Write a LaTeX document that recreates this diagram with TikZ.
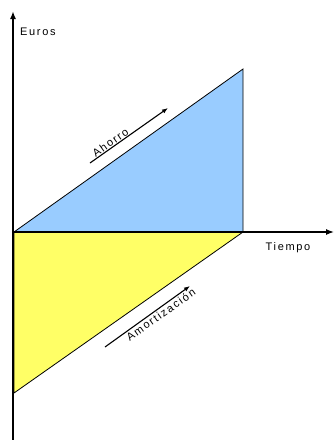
\documentclass[tikz,border=0pt]{standalone}
\usepackage{fontspec}
\setmainfont{Liberation Sans}[LetterSpace=15]
\usepackage{xcolor}
\usetikzlibrary{arrows.meta, calc}
\definecolor{ahorroblue}{RGB}{153,204,255}
\definecolor{amortyellow}{RGB}{255,255,102}

\begin{document}
\begin{tikzpicture}[x=1pt, y=-1pt,
        axis/.style={line width=1.8pt, -{Latex[length=8pt,width=6pt]}},
        xaxis/.style={line width=1.3pt, -{Latex[length=8pt,width=6pt]}},
        tri/.style={draw=black, line width=0.8pt, line join=miter},
        flow/.style={line width=1.1pt, -{Latex[length=6pt,width=4.5pt]}},
        every node/.style={font=\fontsize{11}{13}\selectfont, inner sep=1pt}]
  \useasboundingbox (0,0) rectangle (334,440);
  \coordinate (O) at (14,232);
  \coordinate (T) at (243,69);
  \coordinate (C) at (243,232);
  \coordinate (B) at (14,393);
  \filldraw[tri, fill=ahorroblue] (O) -- (T) -- (C) -- cycle;
  \filldraw[tri, fill=amortyellow] (O) -- (C) -- (B) -- cycle;
  % axes
  \coordinate (ybot) at (13,440);
  \coordinate (ytop) at (13,11);
  \coordinate (xend) at (334,232);
  \draw[axis] (ybot) -- (ytop);
  \draw[xaxis] (O) -- (xend);
  \node[anchor=west] (euros) at (19,32) {Euros};
  \node (tiempo) at (288,248) {Tiempo};
  % ahorro
  \coordinate (a1) at (90,163);
  \coordinate (a2) at (168,108);
  \draw[flow] (a1) -- (a2);
  \node[rotate=35.4, anchor=south] (ahorro) at ($(a1)!0.3!(a2)$) {Ahorro};
  % amortizacion
  \coordinate (m1) at (105,347);
  \coordinate (m2) at (190,286);
  \draw[flow] (m1) -- (m2);
  \node[rotate=35.4, anchor=north] (amort) at ($(m1)!0.62!(m2)+(0,1)$) {Amortización};
\end{tikzpicture}
\end{document}
